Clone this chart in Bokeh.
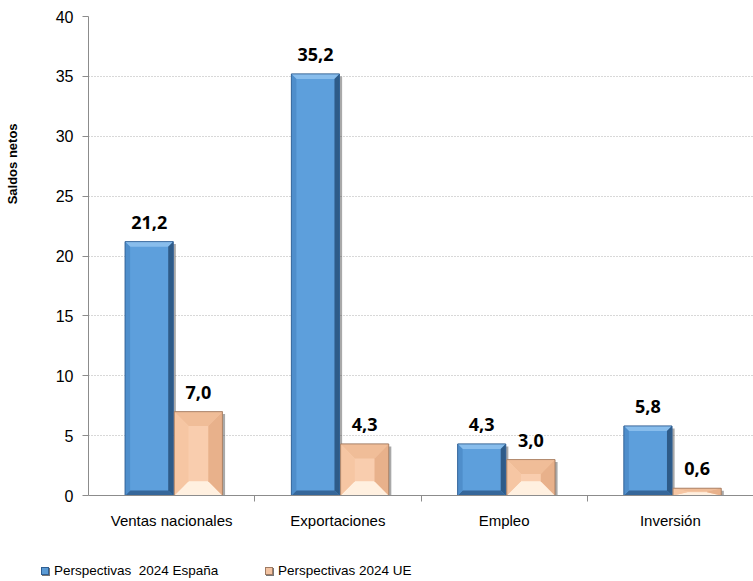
from bokeh.plotting import figure
from bokeh.models import (Range1d, FixedTicker, ColumnDataSource, LabelSet, Div)
from bokeh.layouts import column
from bokeh.embed import file_html
from bokeh.resources import INLINE
from bokeh.core.properties import value

categories = ["Ventas nacionales", "Exportaciones", "Empleo", "Inversión"]
espana = [21.2, 35.2, 4.3, 5.8]
ue = [7.0, 4.3, 3.0, 0.6]
series_names = ["Perspectivas  2024 España", "Perspectivas 2024 UE"]
y_ticks = [0, 5, 10, 15, 20, 25, 30, 35, 40]
y_title = "Saldos netos"

def fmt(v):
    return f"{v:.1f}".replace(".", ",")

centers = [i + 0.513 for i in range(len(categories))]
label_pos = [i + 0.5 for i in range(len(categories))]
off = 0.148
bw = 0.289

p = figure(width=753, height=558, output_backend="svg", toolbar_location=None,
           x_range=Range1d(0, len(categories)), y_range=Range1d(0, 40),
           min_border_left=88, min_border_top=16, min_border_right=0,
           min_border_bottom=63)
p.outline_line_color = None
p.background_fill_color = "white"
p.border_fill_color = "white"

p.xgrid.grid_line_color = None
p.ygrid.ticker = FixedTicker(ticks=y_ticks[1:])
p.ygrid.grid_line_color = "#B0B0B0"
p.ygrid.grid_line_dash = "1 2"
p.ygrid.grid_line_width = 1

def bevel(xc, v, w, bx, by):
    x0, x1, y0, y1 = xc - w / 2, xc + w / 2, 0.0, v
    byy = min(by, v * 0.45)
    bxx = min(bx, w * 0.45)
    ix0, ix1, iy0, iy1 = x0 + bxx, x1 - bxx, y0 + byy, y1 - byy
    top = ([x0, x1, ix1, ix0], [y1, y1, iy1, iy1])
    bottom = ([x0, x1, ix1, ix0], [y0, y0, iy0, iy0])
    left = ([x0, ix0, ix0, x0], [y0, iy0, iy1, y1])
    right = ([x1, ix1, ix1, x1], [y0, iy0, iy1, y1])
    return top, bottom, left, right

def add_bars(vals, xshift, colors, bx, by):
    face, ctop, cbot, cleft, cright, edge = colors
    xs = [c + xshift for c in centers]
    src = ColumnDataSource(dict(x=xs, top=vals, xsh=[x + 0.016 for x in xs],
                                tsh=[v - 0.2 for v in vals],
                                lab=[fmt(v) for v in vals]))
    p.vbar(x="xsh", top="tsh", bottom=-1, width=bw, source=src,
           fill_color="#404040", fill_alpha=0.45, line_color=None)
    p.vbar(x="x", top="top", width=bw, bottom=0, source=src,
           fill_color=face, line_color=edge, line_width=0.7)
    pxs, pys, pcs = [], [], []
    for x, v in zip(xs, vals):
        t, b, l, rr = bevel(x, v, bw, bx, by)
        for poly, c in ((t, ctop), (b, cbot), (l, cleft), (rr, cright)):
            pxs.append(poly[0]); pys.append(poly[1]); pcs.append(c)
    p.patches(xs=pxs, ys=pys, fill_color=pcs, line_color=None)
    p.vbar(x="x", top="top", width=bw, bottom=0, source=src,
           fill_color=None, line_color=edge, line_width=0.7)
    lbl = LabelSet(x="x", y="top", text="lab", source=src, y_offset=13,
                   text_align="center", text_baseline="alphabetic",
                   text_font=value("Open Sans"), text_font_style="bold",
                   text_font_size="18px", text_color="#000000")
    p.add_layout(lbl)

blue = ("#5D9FDC", "#88BDEC", "#36679A", "#4F8ECB", "#2E5B88", "#2F5F93")
peach = ("#F9CDAE", "#F0BD98", "#FFF0E0", "#F6C6A3", "#E8B18B", "#A07A60")
add_bars(espana, -off, blue, 0.03, 0.42)
add_bars(ue, off, peach, 0.085, 1.2)

p.yaxis.ticker = FixedTicker(ticks=y_ticks)
p.yaxis.axis_line_color = "#8C8C8C"
p.yaxis.major_tick_line_color = "#8C8C8C"
p.yaxis.major_tick_out = 6
p.yaxis.major_tick_in = 0
p.yaxis.minor_tick_line_color = None
p.yaxis.major_label_text_font = "Liberation Sans"
p.yaxis.major_label_text_font_size = "16px"
p.yaxis.major_label_text_color = "#000000"
p.yaxis.major_label_standoff = 9
# the reference's axis title sits above the axis middle: pad its start
p.yaxis.axis_label = "\u00a0" * 51 + y_title
p.yaxis.axis_label_text_font = "Liberation Sans"
p.yaxis.axis_label_text_font_style = "bold"
p.yaxis.axis_label_text_font_size = "13px"
p.yaxis.axis_label_text_color = "#000000"
p.yaxis.axis_label_standoff = 33

p.xaxis.ticker = FixedTicker(ticks=label_pos, minor_ticks=list(range(1, len(categories))))
p.xaxis.major_label_overrides = {c: name for c, name in zip(label_pos, categories)}
p.xaxis.axis_line_color = "#8C8C8C"
p.xaxis.major_tick_line_color = None
p.xaxis.major_tick_out = 6
p.xaxis.minor_tick_line_color = "#8C8C8C"
p.xaxis.minor_tick_out = 6
p.xaxis.minor_tick_in = 0
p.xaxis.major_label_text_font = "Liberation Sans"
p.xaxis.major_label_text_font_size = "15px"
p.xaxis.major_label_text_color = "#000000"
p.xaxis.major_label_standoff = 10

# legend strip below the chart (HTML)
legend_swatches = [("#5B9BD5", "#2F5F93", 41), ("#F2C3A2", "#9E7A62", 265)]
parts = []
for (fill, edge, left), name in zip(legend_swatches, series_names):
    parts.append(
        f'<span style="position:absolute;left:{left}px;top:9px;width:8px;height:8px;'
        f'background:{fill};border:1px solid {edge};box-shadow:1px 1px 0 #777;"></span>'
        f'<span style="position:absolute;left:{left + 13}px;top:5px;line-height:15px;'
        f'white-space:pre;font-family:\'Liberation Sans\';font-size:13.5px;color:#000;">'
        f'{name}</span>')
legend_div = Div(text=f'<div style="position:relative;width:753px;height:23px;">'
                      + "".join(parts) + "</div>",
                 width=753, height=23, margin=0)

layout = column(p, legend_div, spacing=0)
open("out.html", "w").write(file_html(layout, INLINE))
